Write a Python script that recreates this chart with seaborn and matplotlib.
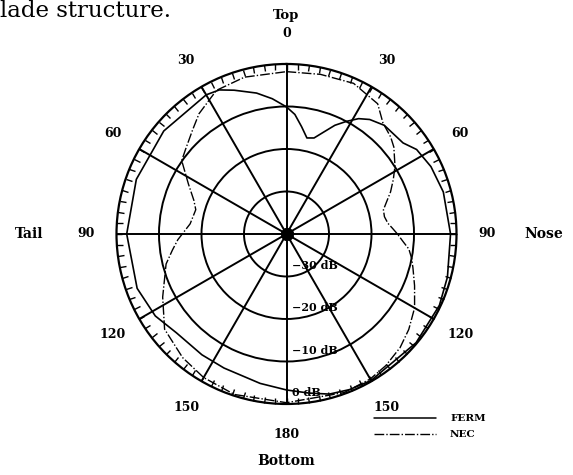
import numpy as np
import matplotlib
matplotlib.use("Agg")
import matplotlib.pyplot as plt
from matplotlib.ticker import FixedLocator
from matplotlib.lines import Line2D
import seaborn as sns

# angles in degrees, clockwise from Top (toward Nose); levels in dB
ferm_deg = [0, 4, 8, 12, 16, 20, 24, 28, 32, 36, 42, 52, 57, 65, 75, 90, 105, 115,
            130, 150, 158, 165, 172, 180, 190, 205, 215, 228, 238, 250, 270, 290,
            310, 330, 335, 340, 348, 354, 360]
ferm_db = [-10.1, -11.8, -14.5, -16.9, -16.5, -14.5, -12.0, -10.0, -8.0, -6.7, -5.6,
           -5.2, -3.5, -2.5, -1.8, -1.4, -0.8, -0.3, -0.2, -0.2, -0.5, -1.0, -2.2,
           -3.3, -4.3, -5.2, -5.3, -5.2, -3.6, -2.6, -2.4, -2.4, -2.3, -2.2, -2.6,
           -4.0, -6.1, -8.0, -10.1]

nec_deg = [0, 12, 24, 35, 41, 47, 51, 58, 63, 68, 72, 76, 80, 84, 87, 90, 94, 97,
           101, 105, 112, 120, 128, 135, 143, 150, 160, 180, 198, 210, 220, 232,
           243, 256, 262, 267, 276, 285, 290, 297, 305, 310, 318, 324, 334, 345, 360]
nec_db = [-1.8, -1.6, -1.2, -2.6, -5.4, -6.5, -7.5, -9.9, -11.8, -13.6, -15.2, -16.5,
          -16.6, -16.0, -15.0, -13.9, -12.4, -11.0, -10.0, -9.2, -7.5, -5.2, -3.5,
          -2.2, -1.2, -0.6, -0.3, -0.3, -0.3, -1.0, -2.0, -3.6, -7.3, -10.8, -12.9,
          -14.4, -17.2, -17.9, -16.8, -14.1, -9.9, -9.0, -7.0, -5.0, -2.4, -1.8, -1.8]

ring_db = [-30, -20, -10]
ring_labels = ["\u221230 dB", "\u221220 dB", "\u221210 dB", "0 dB"]
spoke_deg = [0, 30, 60, 90, 120, 150, 180, 210, 240, 270, 300, 330]
angle_labels = ["0", "30", "60", "90", "120", "150", "180", "150", "120", "90", "60", "30"]
rim_tick_deg = np.arange(0, 360, 3.75)

sns.set_theme(style="white")
plt.rcParams["font.family"] = ["DejaVu Serif"]
plt.rcParams["text.color"] = "black"

fig = plt.figure(figsize=(5.73, 4.75), dpi=100)
ax = fig.add_axes([0.2033, 0.1495, 0.5934, 0.7158], projection="polar")
ax.set_theta_zero_location("N")
ax.set_theta_direction(-1)
ax.set_rlim(-40, 0)

# grid: rings and spokes
ax.set_yticks(ring_db)
ax.set_yticklabels([])
ax.set_xticks(np.deg2rad(spoke_deg))
ax.set_xticklabels([])
ax.grid(True, color="black", linewidth=1.4, linestyle="-")
ax.spines["polar"].set_linewidth(1.6)
ax.spines["polar"].set_color("black")

# small inward ticks around the rim
ax.xaxis.set_minor_locator(FixedLocator(np.deg2rad(rim_tick_deg)))
ax.tick_params(axis="x", which="both", direction="in", length=4.5, width=1.0,
               color="black", bottom=True, top=True, pad=0)

ax.plot(np.deg2rad(ferm_deg), ferm_db, color="black", lw=1.2)
ax.plot(np.deg2rad(nec_deg), nec_db, color="black", lw=1.0,
        linestyle=(0, (7, 1.5, 1, 1.5)))

# angle labels outside the rim
for d, lab in zip(spoke_deg, angle_labels):
    ax.text(np.deg2rad(d), 7.2, lab, ha="center", va="center", fontsize=9,
            fontweight="bold", clip_on=False)

# dB labels along the bottom spoke
for r, lab in zip(ring_db + [0], ring_labels):
    ax.annotate(lab, xy=(np.pi, r), xytext=(4, 8), textcoords="offset points",
                ha="left", va="center", fontsize=8, fontweight="bold")

ax.text(0, 11.5, "Top", ha="center", va="center", fontsize=9.5, fontweight="bold", clip_on=False)
ax.text(np.pi, 13.5, "Bottom", ha="center", va="center", fontsize=10, fontweight="bold", clip_on=False)
ax.text(np.pi * 1.5, 20.5, "Tail", ha="center", va="center", fontsize=10, fontweight="bold", clip_on=False)
ax.text(np.pi * 0.5, 20.5, "Nose", ha="center", va="center", fontsize=10, fontweight="bold", clip_on=False)

handles = [Line2D([], [], color="black", lw=1.1),
           Line2D([], [], color="black", lw=1.0, linestyle=(0, (7, 1.5, 1, 1.5)))]
fig.legend(handles, ["FERM", "NEC"], loc="upper left", bbox_to_anchor=(0.6527, 0.1287),
           frameon=False, handlelength=5.95, handletextpad=1.35, labelspacing=0.65,
           borderpad=0, borderaxespad=0,
           prop={"size": 7.5, "weight": "bold", "family": "DejaVu Serif"})

fig.text(0.0, 1 - 17 / 475, "lade structure.", ha="left", va="baseline",
         fontsize=16.5, family="DejaVu Serif")

fig.savefig("out.png", dpi=100, facecolor="white")
